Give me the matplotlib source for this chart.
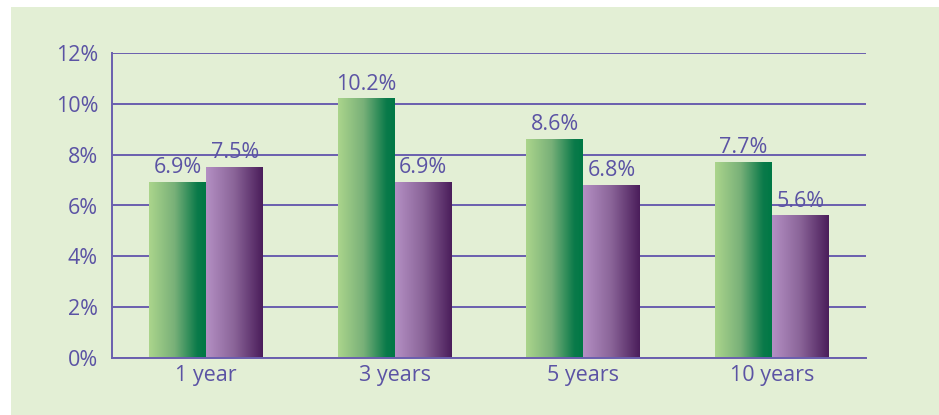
import numpy as np
import matplotlib.pyplot as plt
from matplotlib.colors import LinearSegmentedColormap
from matplotlib.patches import Rectangle

plt.rcParams['font.family'] = ['Open Sans', 'DejaVu Sans']

# data
periods = ['1 year', '3 years', '5 years', '10 years']
green_vals = [6.9, 10.2, 8.6, 7.7]
purple_vals = [7.5, 6.9, 6.8, 5.6]
yticks = [0, 2, 4, 6, 8, 10, 12]

text_col = '#5b53a4'
grid_col = '#6a5fae'
bg_col = '#e3efd5'

green_cmap = LinearSegmentedColormap.from_list(
    'g', [(0, '#abd58c'), (0.45, '#78b078'), (0.85, '#0a7a4a'), (1, '#007845')])
purple_cmap = LinearSegmentedColormap.from_list(
    'p', [(0, '#b490c4'), (0.5, '#8a6498'), (1, '#4a1d5a')])

fig = plt.figure(figsize=(9.39, 4.15), dpi=100)
fig.patch.set_facecolor('white')
fig.add_artist(Rectangle((11 / 939, 0), 1, (415 - 7) / 415,
                         transform=fig.transFigure, facecolor=bg_col,
                         edgecolor='none', zorder=-5))

ax = fig.add_axes([112 / 939, 57 / 415, 754 / 939, 305 / 415])
ax.set_facecolor('none')

x = np.arange(len(periods))
w = 0.302
gbars = ax.bar(x - w / 2, green_vals, w, color='none', zorder=2)
pbars = ax.bar(x + w / 2, purple_vals, w, color='none', zorder=2)

grad = np.linspace(0, 1, 256).reshape(1, -1)
for bars, cmap in [(gbars, green_cmap), (pbars, purple_cmap)]:
    for b in bars:
        x0, h, bw = b.get_x(), b.get_height(), b.get_width()
        ax.imshow(grad, cmap=cmap, aspect='auto', extent=[x0, x0 + bw, 0, h],
                  zorder=2, interpolation='bilinear')
        ax.text(x0 + bw / 2, h + 0.36, f'{h:.1f}%', ha='center', va='baseline',
                fontsize=15.5, color=text_col, zorder=3)

ax.set_xlim(-0.5, len(periods) - 0.5)
ax.set_ylim(0, 12)
ax.set_yticks(yticks)
ax.set_yticklabels([f'{t}%' for t in yticks])
ax.set_xticks(x)
ax.set_xticklabels(periods)
ax.yaxis.grid(True, color=grid_col, linewidth=1.4, zorder=0.5)
ax.set_axisbelow(True)

for s in ['top', 'right']:
    ax.spines[s].set_visible(False)
for s in ['left', 'bottom']:
    ax.spines[s].set_color(grid_col)
    ax.spines[s].set_linewidth(1.4)
ax.tick_params(axis='both', length=0, labelsize=15.5, colors=text_col)
ax.tick_params(axis='y', pad=10)
ax.tick_params(axis='x', pad=5)

fig.savefig('out.png', dpi=100)
